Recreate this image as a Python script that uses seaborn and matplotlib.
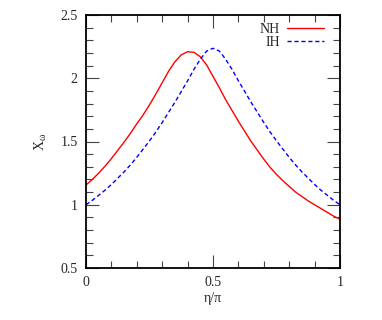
import numpy as np
import pandas as pd
import matplotlib
matplotlib.use("Agg")
import matplotlib.pyplot as plt
import seaborn as sns
from matplotlib.ticker import MultipleLocator

# ---------------------------------------------------------------------------
# data (eta/pi vs X_omega)
# ---------------------------------------------------------------------------
eta = [0.0, 0.025, 0.05, 0.075, 0.1, 0.125, 0.15, 0.175, 0.2, 0.225,
       0.25, 0.275, 0.3, 0.325, 0.35, 0.375, 0.4, 0.425, 0.45, 0.475,
       0.5, 0.525, 0.55, 0.575, 0.6, 0.625, 0.65, 0.675, 0.7, 0.725,
       0.75, 0.775, 0.8, 0.825, 0.85, 0.875, 0.9, 0.925, 0.95, 0.975, 1.0]

x_nh = [1.156, 1.200, 1.250, 1.305, 1.365, 1.430, 1.495, 1.565, 1.640, 1.710,
        1.790, 1.875, 1.965, 2.055, 2.130, 2.185, 2.210, 2.205, 2.170, 2.105,
        2.015, 1.925, 1.830, 1.745, 1.660, 1.580, 1.500, 1.430, 1.360, 1.295,
        1.240, 1.190, 1.145, 1.100, 1.065, 1.030, 1.000, 0.970, 0.940, 0.910,
        0.885]

x_ih = [1.000, 1.035, 1.075, 1.115, 1.160, 1.210, 1.260, 1.315, 1.375, 1.440,
        1.505, 1.575, 1.650, 1.730, 1.810, 1.895, 1.980, 2.070, 2.150, 2.215,
        2.237, 2.215, 2.150, 2.070, 1.980, 1.895, 1.810, 1.730, 1.650, 1.575,
        1.505, 1.440, 1.375, 1.315, 1.260, 1.210, 1.160, 1.115, 1.075, 1.035,
        1.000]

labels = ["NH", "IH"]
colors = {"NH": "#ff0000", "IH": "#0000ff"}

df = pd.DataFrame({
    "eta": eta * 2,
    "X": x_nh + x_ih,
    "hier": ["NH"] * len(eta) + ["IH"] * len(eta),
})

# ---------------------------------------------------------------------------
# style
# ---------------------------------------------------------------------------
sns.set_style("ticks")
plt.rcParams["font.family"] = ["Liberation Serif", "DejaVu Serif"]
plt.rcParams["mathtext.fontset"] = "custom"
plt.rcParams["mathtext.rm"] = "Liberation Serif"

fig = plt.figure(figsize=(3.82, 3.2), dpi=100)
ax = fig.add_axes([86 / 382, 52 / 320, 254 / 382, 253 / 320])

sns.lineplot(data=df, x="eta", y="X", hue="hier", style="hier",
             hue_order=labels, style_order=labels, palette=colors,
             dashes={"NH": "", "IH": (3, 2)}, linewidth=1.0,
             sort=False, ax=ax)

ax.set_xlim(0, 1)
ax.set_ylim(0.5, 2.5)
ax.xaxis.set_major_locator(MultipleLocator(0.5))
ax.xaxis.set_minor_locator(MultipleLocator(0.1))
ax.yaxis.set_major_locator(MultipleLocator(0.5))
ax.yaxis.set_minor_locator(MultipleLocator(0.1))
ax.xaxis.set_major_formatter(plt.FuncFormatter(lambda v, p: f"{v:g}"))
ax.yaxis.set_major_formatter(plt.FuncFormatter(lambda v, p: f"{v:g}"))

ax.tick_params(which="both", direction="in", top=True, right=True,
               color="#444444", width=0.8, labelsize=10, pad=6)
ax.tick_params(which="major", length=9.5)
ax.tick_params(which="minor", length=5)
for s in ax.spines.values():
    s.set_linewidth(1.3)
    s.set_color("black")

ax.set_xlabel("η/π", fontsize=10, labelpad=2)
ax.set_ylabel(r"X$_\mathregular{ω}$", fontsize=10, labelpad=8)

ax.legend(frameon=False, markerfirst=False, loc="upper right",
          bbox_to_anchor=(0.957, 0.992), borderaxespad=0,
          fontsize=10, handlelength=2.6, handletextpad=0.55,
          labelspacing=0.0, title=None)

fig.savefig("out.png", dpi=100)
